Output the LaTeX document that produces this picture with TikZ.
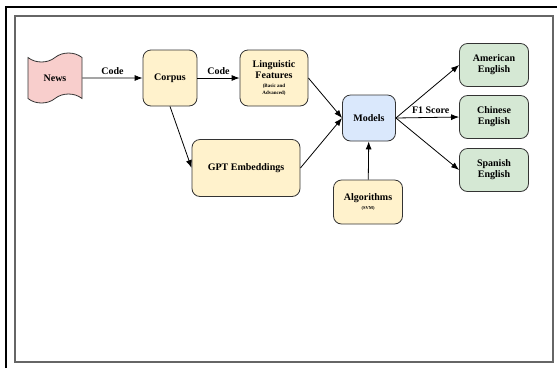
\documentclass[tikz,border=0pt]{standalone}
\usepackage{fontspec}
\setmainfont{Liberation Serif}
\usepackage{tikz}
\usetikzlibrary{arrows,arrows.meta,shapes.symbols,positioning}
\definecolor{newsfill}{HTML}{F8CECC}
\definecolor{stepfill}{HTML}{FFF2CC}
\definecolor{modelfill}{HTML}{DAE8FC}
\definecolor{langfill}{HTML}{D5E8D4}
\definecolor{edgegray}{HTML}{333333}
\tikzset{
  box/.style={draw=edgegray,line width=0.8pt,rounded corners=8pt,align=center,
    font=\fontsize{10}{11.2}\selectfont\bfseries,inner sep=2pt},
  lab/.style={font=\fontsize{10}{11.2}\selectfont\bfseries}
}
\newcommand{\smalltxt}[1]{{\fontsize{5}{6}\selectfont #1}}
\begin{document}
\begin{tikzpicture}[x=1pt,y=-1pt,>={Latex[length=8pt,width=6pt]}]
\useasboundingbox (0,0) rectangle (557,368);
\draw[line width=1.1pt] (6,368) -- (6,7) -- (557,7);
\draw[line width=1.2pt,gray!80!black] (15,16) rectangle (553,362);
\node (news) at (55,78) [tape,draw=edgegray,fill=newsfill,line width=0.8pt,minimum width=54pt,minimum height=50pt,tape bend height=9pt,font=\fontsize{10}{11.2}\selectfont\bfseries] {News};
\node (corpus) at (170,78) [box,fill=stepfill,minimum width=54pt,minimum height=56pt] {Corpus};
\node (ling) at (274,78) [box,fill=stepfill,minimum width=68pt,minimum height=56pt] {Linguistic\\Features\\[-3pt]\smalltxt{(Basic and}\\[-4pt]\smalltxt{Advanced)}};
\node (gpt) at (246,168) [box,fill=stepfill,minimum width=108pt,minimum height=57pt] {GPT Embeddings};
\node (models) at (369,118) [box,fill=modelfill,minimum width=53pt,minimum height=46pt] {Models};
\node (algo) at (368,202) [box,fill=stepfill,minimum width=69pt,minimum height=44pt] {Algorithms\\[-3pt]{\fontsize{4.5}{5}\selectfont (SVM)}};
\node (amer) at (494,65) [box,fill=langfill,minimum width=69pt,minimum height=43pt] {American\\English};
\node (chin) at (494,117) [box,fill=langfill,minimum width=69pt,minimum height=43pt] {Chinese\\English};
\node (span) at (494,170) [box,fill=langfill,minimum width=69pt,minimum height=43pt] {Spanish\\English};
\draw[->,thick] (news) to node[above,lab] {Code} (corpus);
\draw[->,thick] (corpus) to node[above,lab] {Code} (ling);
\draw[->,thick] (corpus.south) to (gpt.west);
\draw[->,thick] (ling.east) to (models.west);
\draw[->,thick] (gpt.east) to (models.west);
\draw[->,thick] (algo) to (models);
\draw[->,thick] (models.east) to (amer.west);
\draw[->,thick] (models.east) to node[above,lab,pos=0.55] {F1 Score} (chin.west);
\draw[->,thick] (models.east) to (span.west);
\end{tikzpicture}
\end{document}
